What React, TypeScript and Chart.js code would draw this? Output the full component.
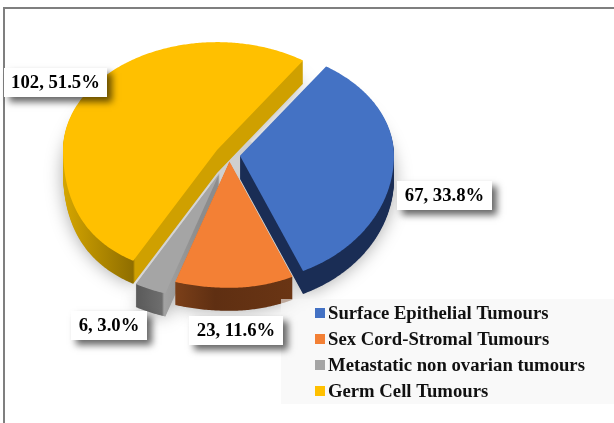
import React, { useEffect, useRef } from "react";
import { Chart, registerables } from "chart.js";

Chart.register(...registerables);

const categories = [
  "Surface Epithelial Tumours",
  "Sex Cord-Stromal Tumours",
  "Metastatic non ovarian tumours",
  "Germ Cell Tumours",
];
const counts = [67, 23, 6, 102];
const faceColors = ["#4472c4", "#f38035", "#a5a5a5", "#ffc000"];
const sliceOffsets = [11, 8, 24, 14];

// layout of the tilted pie and its annotations
const ROTATION = 34;
const DEPTH = 23;
const SCREEN_CY = 155;
const K_UP = 0.7;
const K_DOWN = 0.82;
const WIDEN_LOWER_LEFT = 0.18;
const FONT = "bold 18.7px 'Liberation Serif'";
const LABEL_BOXES = [
  { x: 397, y: 181, w: 95, h: 29 },
  { x: 189, y: 316, w: 94, h: 29 },
  { x: 71, y: 311, w: 76, h: 29 },
  { x: 4, y: 68, w: 103, h: 29 },
];
const DRAW_ORDER = [3, 0, 2, 1];

function wallFill(ctx: CanvasRenderingContext2D, index: number) {
  const g = ctx.createLinearGradient(0, 0, 614, 0);
  const stop = (x: number, c: string) => g.addColorStop(x / 614, c);
  if (index === 3) {
    stop(60, "#d8a800");
    stop(133, "#8f6e00");
    stop(135, "#cfa000");
    stop(320, "#cfa000");
  } else if (index === 2) {
    stop(130, "#555555");
    stop(162, "#6e6e6e");
    stop(164, "#a2a2a2");
    stop(200, "#8c8c8c");
  } else if (index === 1) {
    stop(174, "#7c4019");
    stop(215, "#5f2f12");
    stop(292, "#6a3514");
  } else {
    stop(240, "#1a2d55");
    stop(400, "#1a2d55");
  }
  return g;
}

function slicePath(ctx: CanvasRenderingContext2D, arc: any, offset: number, dy: number) {
  const { x, startAngle, endAngle, outerRadius } = arc.getProps(
    ["x", "startAngle", "endAngle", "outerRadius"],
    true
  );
  const mid = (startAngle + endAngle) / 2;
  const ox = Math.cos(mid) * offset;
  const oy = Math.sin(mid) * offset;
  const X = x + ox;
  const Y = SCREEN_CY + oy * (oy < 0 ? K_UP : K_DOWN) + dy;
  ctx.beginPath();
  ctx.moveTo(X, Y);
  const steps = Math.max(2, Math.ceil((endAngle - startAngle) / 0.01));
  for (let i = 0; i <= steps; i++) {
    const t = startAngle + ((endAngle - startAngle) * i) / steps;
    const c = Math.cos(t);
    const s = Math.sin(t);
    const wx = c < 0 && s > 0 ? 1 + WIDEN_LOWER_LEFT * s * s : 1;
    ctx.lineTo(X + outerRadius * c * wx, Y + outerRadius * s * (s < 0 ? K_UP : K_DOWN));
  }
  ctx.closePath();
}

const tiltedPie = {
  id: "tiltedPie",
  beforeDraw(chart: any) {
    const ctx = chart.ctx as CanvasRenderingContext2D;
    ctx.save();
    ctx.fillStyle = "#ffffff";
    ctx.fillRect(0, 0, 614, 423);
    ctx.strokeStyle = "#7f7f7f";
    ctx.lineWidth = 2;
    ctx.beginPath();
    ctx.moveTo(4, 423);
    ctx.lineTo(4, 8);
    ctx.lineTo(614, 8);
    ctx.stroke();
    ctx.restore();
  },
  beforeDatasetsDraw(chart: any) {
    const ctx = chart.ctx as CanvasRenderingContext2D;
    const arcs = chart.getDatasetMeta(0).data;
    ctx.save();
    // soft shadow cast by the whole pie
    ctx.shadowColor = "rgba(0,0,0,0.35)";
    ctx.shadowBlur = 18;
    ctx.fillStyle = "#c8c8c8";
    for (const i of DRAW_ORDER) {
      slicePath(ctx, arcs[i], sliceOffsets[i], DEPTH);
      ctx.fill();
    }
    ctx.shadowColor = "transparent";
    ctx.shadowBlur = 0;
    // grey floor visible in the gaps near the centre
    ctx.fillStyle = "#cfcfcf";
    ctx.beginPath();
    ctx.ellipse(232, 165, 30, 30, 0, 0, Math.PI * 2);
    ctx.fill();
    for (const i of DRAW_ORDER) {
      ctx.fillStyle = wallFill(ctx, i);
      for (let d = DEPTH; d >= 1; d--) {
        slicePath(ctx, arcs[i], sliceOffsets[i], d);
        ctx.fill();
      }
      ctx.fillStyle = faceColors[i];
      slicePath(ctx, arcs[i], sliceOffsets[i], 0);
      ctx.fill();
    }
    ctx.restore();
    return false;
  },
  afterDraw(chart: any) {
    const ctx = chart.ctx as CanvasRenderingContext2D;
    const total = counts.reduce((a, b) => a + b, 0);
    ctx.save();
    // legend
    ctx.fillStyle = "rgba(245,245,245,0.6)";
    ctx.fillRect(281, 299, 333, 105);
    ctx.font = FONT;
    ctx.textBaseline = "middle";
    ctx.textAlign = "left";
    categories.forEach((c, i) => {
      const y = 313 + i * 26;
      ctx.fillStyle = faceColors[i];
      ctx.fillRect(315, y - 5, 10, 10);
      ctx.fillStyle = "#111111";
      ctx.fillText(c, 328, y + 1);
    });
    // value labels
    counts.forEach((v, i) => {
      const b = LABEL_BOXES[i];
      ctx.save();
      ctx.shadowColor = "rgba(0,0,0,0.6)";
      ctx.shadowBlur = 7;
      ctx.shadowOffsetX = 5;
      ctx.shadowOffsetY = 5;
      ctx.fillStyle = "#ffffff";
      ctx.fillRect(b.x, b.y, b.w, b.h);
      ctx.restore();
      ctx.fillStyle = "#000000";
      ctx.textAlign = "center";
      ctx.fillText(`${v}, ${((v / total) * 100).toFixed(1)}%`, b.x + b.w / 2, b.y + b.h / 2 + 1);
    });
    ctx.restore();
  },
};

export default function App() {
  const ref = useRef<HTMLCanvasElement>(null);
  useEffect(() => {
    const chart = new Chart(ref.current as HTMLCanvasElement, {
      type: "pie",
      data: {
        labels: categories,
        datasets: [
          {
            data: counts,
            backgroundColor: faceColors,
            offset: sliceOffsets,
            borderWidth: 0,
          },
        ],
      },
      options: {
        responsive: false,
        animation: false,
        rotation: ROTATION,
        layout: { padding: { left: 63, right: 219, top: 0, bottom: 91 } },
        plugins: { legend: { display: false }, tooltip: { enabled: false } },
      },
      plugins: [tiltedPie],
    } as any);
    return () => chart.destroy();
  }, []);
  return (
    <div style={{ position: "fixed", left: 0, top: 0, width: 614, height: 423 }}>
      <canvas ref={ref} width={614} height={423} style={{ display: "block" }} />
    </div>
  );
}
